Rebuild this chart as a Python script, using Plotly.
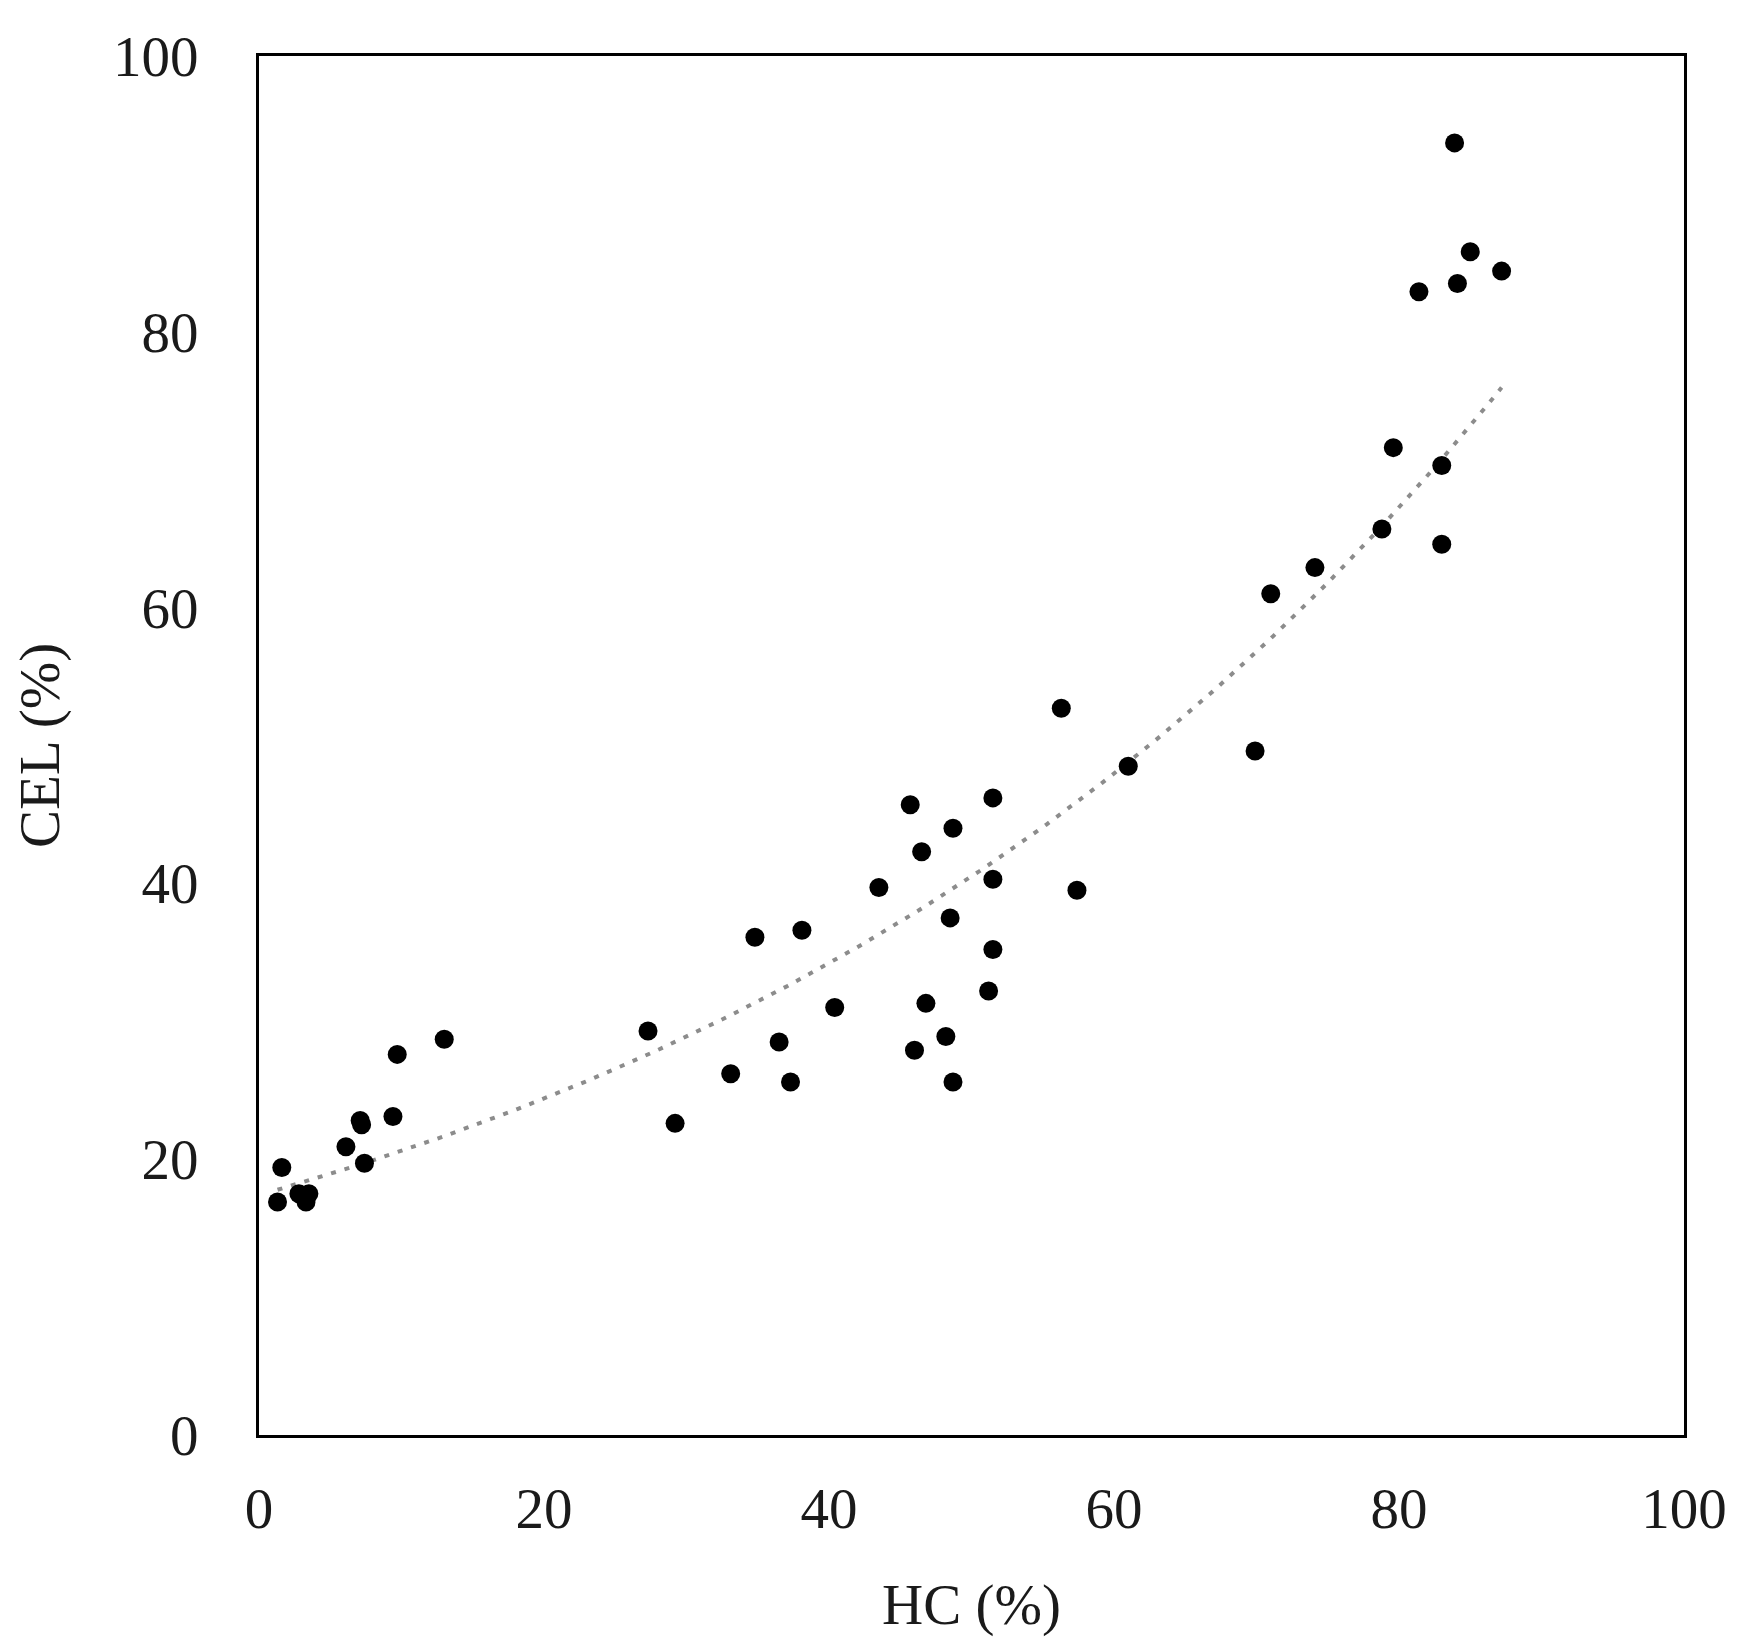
import numpy as np
import plotly.graph_objects as go

# HC (%) vs CEL (%)
hc = [83.9, 85.0, 87.2, 81.4, 84.1, 79.6, 83.0, 78.8, 83.0, 74.1, 71.0,
      56.3, 61.0, 69.9, 45.7, 51.5, 48.7, 46.5, 43.5, 51.5, 57.4, 48.5,
      38.1, 34.8, 51.5, 51.2, 46.8, 40.4, 27.3, 36.5, 48.2, 46.0, 33.1,
      37.3, 48.7, 29.2, 13.0, 9.7, 9.4, 7.1, 7.2, 6.1, 7.4, 1.6, 2.8,
      3.5, 1.3, 3.3]
cel = [93.7, 85.8, 84.4, 82.9, 83.5, 71.6, 70.3, 65.7, 64.6, 62.9, 61.0,
       52.7, 48.5, 49.6, 45.7, 46.2, 44.0, 42.3, 39.7, 40.3, 39.5, 37.5,
       36.6, 36.1, 35.2, 32.2, 31.3, 31.0, 29.3, 28.5, 28.9, 27.9, 26.2,
       25.6, 25.6, 22.6, 28.7, 27.6, 23.1, 22.8, 22.5, 20.9, 19.7, 19.4,
       17.5, 17.5, 16.9, 16.9]
ticks = [0, 20, 40, 60, 80, 100]

# linea de tendencia exponencial (ajuste por minimos cuadrados sobre ln y)
b, ln_a = np.polyfit(hc, np.log(cel), 1)
x_fit = np.linspace(min(hc), max(hc), 200)
y_fit = np.exp(ln_a) * np.exp(b * x_fit)

FONT = "Palatino Linotype, Book Antiqua, Liberation Serif, serif"
TXT = dict(family=FONT, size=57, color="#1a1a1a")

fig = go.Figure()
fig.add_trace(go.Scatter(x=x_fit, y=y_fit, mode="lines",
                         line=dict(color="#8c8c8c", width=4, dash="5px,9px"),
                         showlegend=False, hoverinfo="skip"))
fig.add_trace(go.Scatter(x=hc, y=cel, mode="markers",
                         marker=dict(color="black", size=19),
                         showlegend=False))

axis = dict(range=[0, 100], tickvals=ticks, showgrid=False, zeroline=False,
            showline=True, linecolor="black", linewidth=3, mirror=True,
            ticks="", tickfont=TXT)
fig.update_layout(
    width=1733, height=1635,
    margin=dict(l=251, r=57, t=48, b=208),
    paper_bgcolor="white", plot_bgcolor="white",
    xaxis=dict(axis, ticklabelstandoff=22,
               title=dict(text="HC (%)", font=TXT, standoff=45)),
    yaxis=dict(axis, ticklabelstandoff=46,
               title=dict(text="CEL (%)", font=TXT, standoff=40)),
)
fig.write_html("out.html")
